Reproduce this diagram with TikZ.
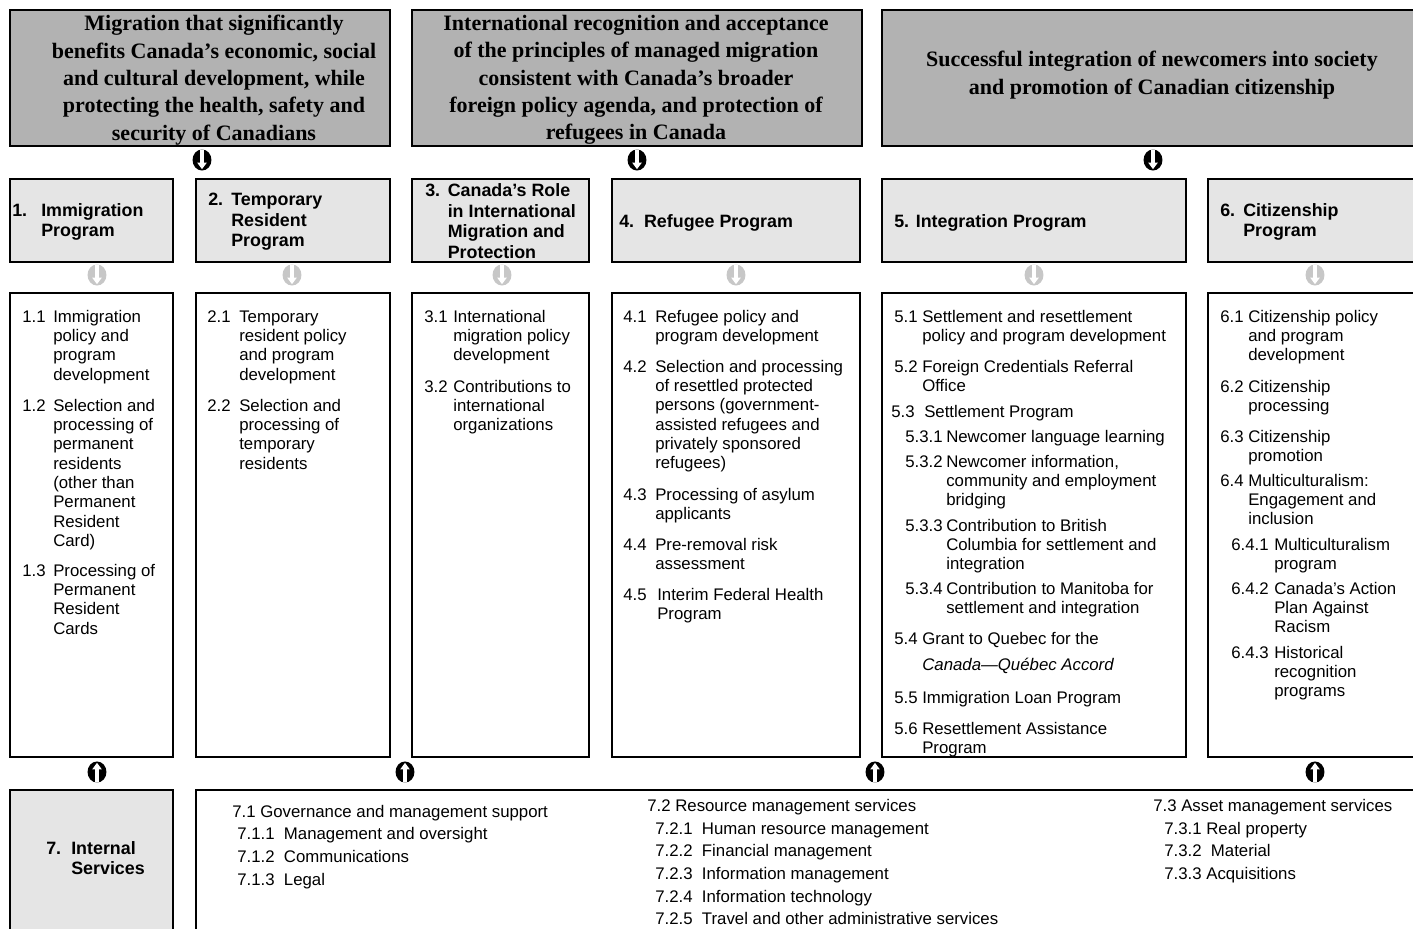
\documentclass[tikz,border=0pt]{standalone}
\usepackage{fontspec}
\setmainfont{Liberation Sans}
\newfontfamily\goalfont{Liberation Serif}
\usetikzlibrary{arrows.meta,shapes.geometric}

\newdimen\pxu \pxu=0.75pt
\newcommand{\itm}[3]{\makebox[#1\pxu][l]{#2}\begin{tabular}[t]{@{}l@{}}#3\end{tabular}}
\newcommand{\svclist}[1]{\begin{tabular}[t]{@{}l@{}}#1\end{tabular}}

\tikzset{
  goalbox/.style={draw=black, line width=1.2pt, fill=black!30},
  progbox/.style={draw=black, line width=1.2pt, fill=black!10},
  detbox/.style={draw=black, line width=1pt},
  goaltext/.style={align=center, inner sep=0pt, font=\goalfont\fontsize{16.5}{20.5}\selectfont\bfseries},
  progtitle/.style={anchor=base west, inner sep=0pt, font=\fontsize{13.4}{15.4}\selectfont\bfseries},
  entry/.style={anchor=base west, inner sep=0pt, font=\fontsize{12.6}{14.5}\selectfont},
  service/.style={anchor=base west, inner sep=0pt, font=\fontsize{12.6}{17}\selectfont},
  signglyph/.style={ellipse, minimum width=14.2pt, minimum height=15.8pt, inner sep=0pt, fill=#1},
  downsign/.style={signglyph=#1, path picture={\draw[white, line width=2.3pt, -{Triangle[width=7pt,length=5pt]}]
    (path picture bounding box.north) -- ([yshift=1pt]path picture bounding box.south);}},
  upsign/.style={signglyph=black, path picture={\draw[white, line width=2.3pt, -{Triangle[width=7pt,length=5pt]}]
    (path picture bounding box.south) -- ([yshift=-1pt]path picture bounding box.north);}}
}

\begin{document}
\begin{tikzpicture}[x=0.75pt, y=-0.75pt]
	\useasboundingbox (0,0) rectangle (1413,928);
	\clip (0,0) rectangle (1413,928);
	% strategic outcomes
	\draw[goalbox] (10,10) rectangle (390,146);
	\draw[goalbox] (412,10) rectangle (862,146);
	\draw[goalbox] (882,10) rectangle (1430,146);
	\node[goaltext] (goalA) at (214,80) {Migration that significantly\\benefits Canada’s economic, social\\and cultural development, while\\protecting the health, safety and\\security of Canadians};
	\node[goaltext] (goalB) at (636,80) {International recognition and acceptance\\of the principles of managed migration\\consistent with Canada’s broader\\foreign policy agenda, and protection of\\refugees in Canada};
	\node[goaltext] (goalC) at (1152,75) {Successful integration of newcomers into society\\and promotion of Canadian citizenship};
	\node[downsign=black] (toA) at (202,160) {};
	\node[downsign=black] (toB) at (637,160) {};
	\node[downsign=black] (toC) at (1153,160) {};

	% programs and sub-activities
	\foreach \l/\r in {10/173,196/390,412/589,612/860,882/1186,1208/1430} {
	  \draw[progbox] (\l,179) rectangle (\r,262);
	  \draw[detbox] (\l,293) rectangle (\r,757);
	}
	\foreach \x [count=\i] in {97,292,502,736,1034,1315}
	  \node[downsign=black!22] (gs\i) at (\x,275) {};
	\node[progtitle] (progA) at (12,216) {\itm{29}{1.}{Immigration\\Program}};
	\node[progtitle] (progB) at (208,205.5) {\itm{23}{2.}{Temporary\\Resident\\Program}};
	\node[progtitle] (progC) at (425,196.5) {\itm{22.5}{3.}{Canada’s Role\\in International\\Migration and\\Protection}};
	\node[progtitle] (progD) at (619,227.5) {4.\ \ Refugee Program};
	\node[progtitle] (progE) at (894,227.5) {5. Integration Program};
	\node[progtitle] (progF) at (1220,216) {\itm{23}{6.}{Citizenship\\Program}};

	\node[entry] (d11) at (22,322) {\itm{31}{1.1}{Immigration\\policy and\\program\\development}};
	\node[entry] (d12) at (22,411) {\itm{31}{1.2}{Selection and\\processing of\\permanent\\residents\\(other than\\Permanent\\Resident\\Card)}};
	\node[entry] (d13) at (22,576) {\itm{31}{1.3}{Processing of\\Permanent\\Resident\\Cards}};

	\node[entry] (d21) at (207,322) {\itm{32}{2.1}{Temporary\\resident policy\\and program\\development}};
	\node[entry] (d22) at (207,411) {\itm{32}{2.2}{Selection and\\processing of\\temporary\\residents}};

	\node[entry] (d31) at (424,322) {\itm{29}{3.1}{International\\migration policy\\development}};
	\node[entry] (d32) at (424,392) {\itm{29}{3.2}{Contributions to\\international\\organizations}};

	\node[entry] (d41) at (623,322) {\itm{32}{4.1}{Refugee policy and\\program development}};
	\node[entry] (d42) at (623,372) {\itm{32}{4.2}{Selection and processing\\of resettled protected\\persons (government-\\assisted refugees and\\privately sponsored\\refugees)}};
	\node[entry] (d43) at (623,500) {\itm{32}{4.3}{Processing of asylum\\applicants}};
	\node[entry] (d44) at (623,550) {\itm{32}{4.4}{Pre-removal risk\\assessment}};
	\node[entry] (d45) at (623,600) {\itm{34}{4.5}{Interim Federal Health\\Program}};

	\node[entry] (d51) at (894,322) {\itm{28}{5.1}{Settlement and resettlement\\policy and program development}};
	\node[entry] (d52) at (894,372) {\itm{28}{5.2}{Foreign Credentials Referral\\Office}};
	\node[entry] (d53) at (891,417) {\itm{33}{5.3}{Settlement Program}};
	\node[entry] (d531) at (905,442) {\itm{41}{5.3.1}{Newcomer language learning}};
	\node[entry] (d532) at (905,467) {\itm{41}{5.3.2}{Newcomer information,\\community and employment\\bridging}};
	\node[entry] (d533) at (905,531) {\itm{41}{5.3.3}{Contribution to British\\Columbia for settlement and\\integration}};
	\node[entry] (d534) at (905,594) {\itm{41}{5.3.4}{Contribution to Manitoba for\\settlement and integration}};
	\node[entry] (d54) at (894,644) {\itm{28}{5.4}{Grant to Quebec for the\\[5pt]\textit{Canada---Québec Accord}}};
	\node[entry] (d55) at (894,703) {\itm{28}{5.5}{Immigration Loan Program}};
	\node[entry] (d56) at (894,734) {\itm{28}{5.6}{Resettlement Assistance\\Program}};

	\node[entry] (d61) at (1220,322) {\itm{28}{6.1}{Citizenship policy\\and program\\development}};
	\node[entry] (d62) at (1220,392) {\itm{28}{6.2}{Citizenship\\processing}};
	\node[entry] (d63) at (1220,442) {\itm{28}{6.3}{Citizenship\\promotion}};
	\node[entry] (d64) at (1220,486) {\itm{28}{6.4}{Multiculturalism:\\Engagement and\\inclusion}};
	\node[entry] (d641) at (1231,550) {\itm{43}{6.4.1}{Multiculturalism\\program}};
	\node[entry] (d642) at (1231,594) {\itm{43}{6.4.2}{Canada’s Action\\Plan Against\\Racism}};
	\node[entry] (d643) at (1231,658) {\itm{43}{6.4.3}{Historical\\recognition\\programs}};

	% internal services
	\foreach \x [count=\i] in {97,405,875,1315}
	  \node[upsign] (us\i) at (\x,772) {};
	\draw[progbox] (10,790) rectangle (173,960);
	\draw[detbox] (196,790) rectangle (1430,960);
	\node[progtitle] (progG) at (46,854) {\itm{25}{7.}{Internal\\Services}};
	\node[service] (svA) at (232,817) {\svclist{7.1 Governance and management support\\
	  \hspace*{5\pxu}7.1.1\ \ Management and oversight\\
	  \hspace*{5\pxu}7.1.2\ \ Communications\\
	  \hspace*{5\pxu}7.1.3\ \ Legal}};
	\node[service] (svB) at (647,811.5) {\svclist{7.2 Resource management services\\
	  \hspace*{8\pxu}7.2.1\ \ Human resource management\\
	  \hspace*{8\pxu}7.2.2\ \ Financial management\\
	  \hspace*{8\pxu}7.2.3\ \ Information management\\
	  \hspace*{8\pxu}7.2.4\ \ Information technology\\
	  \hspace*{8\pxu}7.2.5\ \ Travel and other administrative services}};
	\node[service] (svC) at (1153,811.5) {\svclist{7.3 Asset management services\\
	  \hspace*{11\pxu}7.3.1 Real property\\
	  \hspace*{11\pxu}7.3.2\ \ Material\\
	  \hspace*{11\pxu}7.3.3 Acquisitions}};
\end{tikzpicture}
\end{document}
